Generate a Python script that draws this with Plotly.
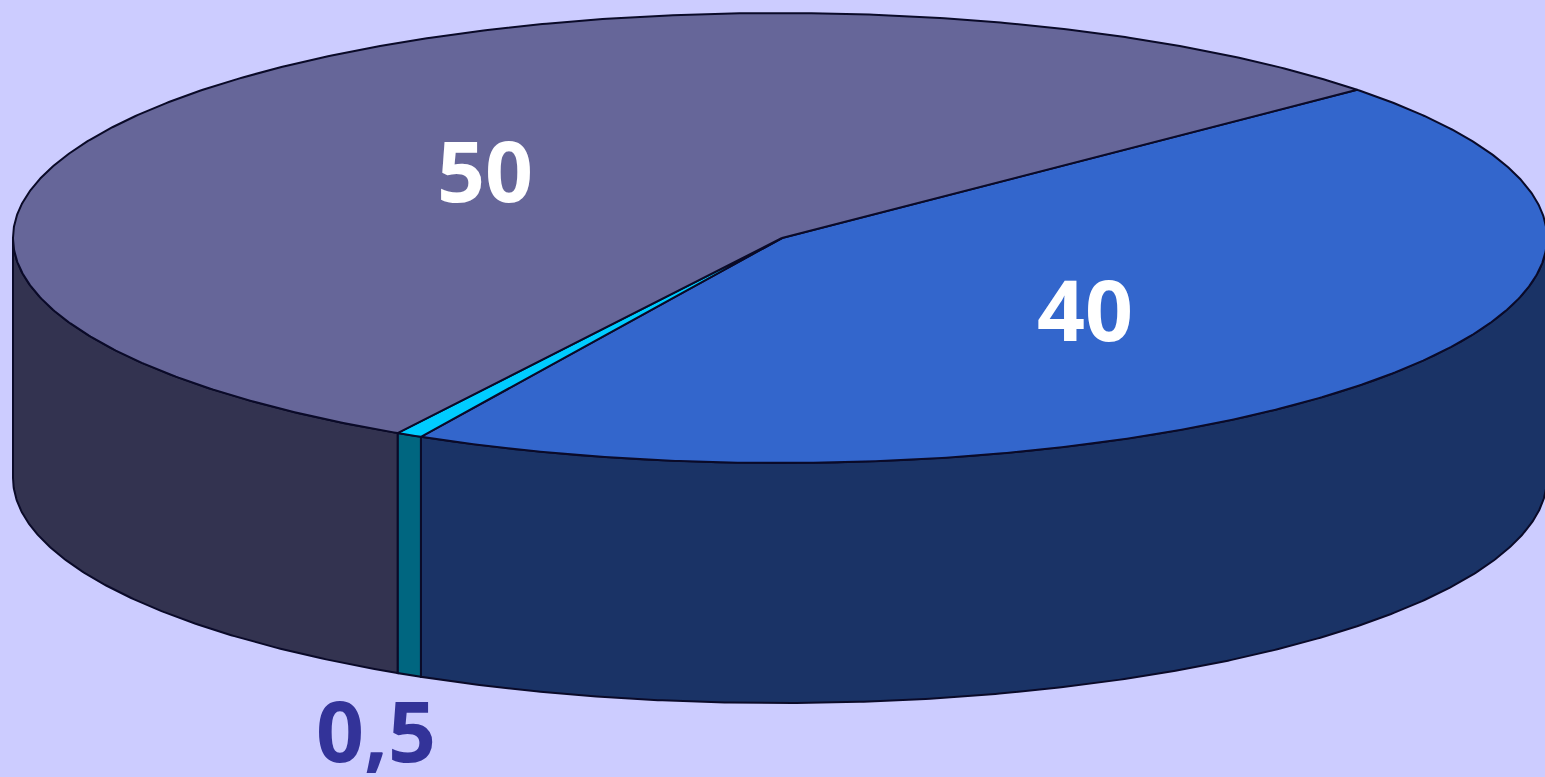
import numpy as np
import plotly.graph_objects as go

# Data
categories = ["A", "B", "C"]
values = [40, 0.5, 50]
value_labels = ["40", "0,5", "50"]
top_colors = ["#3366CC", "#00CCFF", "#666699"]
side_colors = ["#1A3366", "#006680", "#333350"]
label_colors = ["#FFFFFF", "#333399", "#FFFFFF"]

# Picture geometry
W, H = 1545, 777
CX, CY, RX, RY = 780, 238, 767, 225
HUB = (782, 238)
DEPTH = 240
START_DEG = 41.2  # first slice starts here and runs clockwise
BG = "#CCCCFF"
EDGE = "#0A0A28"
label_pos = [(1085, 320), (376, 741), (485, 181)]
label_size = 84


def rim(a0, a1):
    n = max(2, int(abs(a1 - a0) * 3))
    a = np.radians(np.linspace(a0, a1, n))
    return CX + RX * np.cos(a), CY - RY * np.sin(a)


fig = go.Figure()
total = sum(values)
spans = []
a = START_DEG
for v in values:
    b = a - v / total * 360
    spans.append((a, b))
    a = b

# Walls: only the near half of the rim (0 to -180 deg) is visible
for (a0, b0), col in zip(spans, side_colors):
    hi, lo = min(a0, 0), max(b0, -180)
    x, y = rim(hi, lo)
    xs = np.concatenate([x, x[::-1], x[:1]])
    ys = np.concatenate([y, y[::-1] + DEPTH, y[:1]])
    fig.add_trace(go.Scatter(x=xs, y=ys, mode="lines", fill="toself", fillcolor=col,
                             line=dict(color=EDGE, width=2), hoverinfo="skip", showlegend=False))

# Tops
for (a0, b0), col in zip(spans, top_colors):
    x, y = rim(a0, b0)
    xs = np.concatenate([[HUB[0]], x, [HUB[0]]])
    ys = np.concatenate([[HUB[1]], y, [HUB[1]]])
    fig.add_trace(go.Scatter(x=xs, y=ys, mode="lines", fill="toself", fillcolor=col,
                             line=dict(color=EDGE, width=2), hoverinfo="skip", showlegend=False))

# Labels
for txt, col, (lx, ly) in zip(value_labels, label_colors, label_pos):
    fig.add_trace(go.Scatter(x=[lx], y=[ly], mode="text", text=[txt],
                             textposition="middle center",
                             textfont=dict(family="Noto Sans", size=label_size, color=col, weight="bold"),
                             hoverinfo="skip", showlegend=False, cliponaxis=False))

fig.update_layout(
    width=W, height=H, margin=dict(l=0, r=0, t=0, b=0),
    paper_bgcolor=BG, plot_bgcolor=BG, showlegend=False,
    xaxis=dict(range=[0, W], visible=False, fixedrange=True),
    yaxis=dict(range=[H, 0], visible=False, fixedrange=True),
)
fig.write_html(
    "out.html",
    config={"displayModeBar": False},
    post_script="document.body.style.margin='0';document.body.style.overflow='hidden';"
                "document.documentElement.style.background='#CCCCFF';",
)
